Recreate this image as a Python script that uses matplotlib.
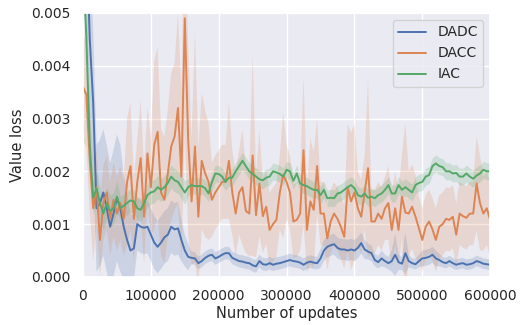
import numpy as np
import matplotlib
matplotlib.use("Agg")
import matplotlib.pyplot as plt
import seaborn as sns

# updates logged every 5000 steps
updates = np.arange(0, 600001, 5000)

dadc = [0.0080, 0.0065, 0.0045, 0.0033, 0.0013, 0.0014, 0.0016, 0.0013, 0.00095, 0.0012,
        0.0015, 0.0013, 0.00095, 0.0007, 0.0005, 0.00054, 0.0010, 0.00095, 0.00093, 0.00095,
        0.0008, 0.00065, 0.00057, 0.00065, 0.00075, 0.0008, 0.00095, 0.0009, 0.00092, 0.0007,
        0.0005, 0.00038, 0.00036, 0.00035, 0.00026, 0.0003, 0.00036, 0.0004, 0.00042, 0.00035,
        0.00038, 0.00042, 0.00045, 0.00045, 0.00036, 0.00033, 0.0003, 0.00029, 0.00027, 0.00026,
        0.00022, 0.0002, 0.0003, 0.00024, 0.00023, 0.00026, 0.00023, 0.00025, 0.00026, 0.00028,
        0.0003, 0.00032, 0.0003, 0.00029, 0.00027, 0.00023, 0.00027, 0.00029, 0.00027, 0.00026,
        0.00035, 0.0005, 0.00057, 0.0006, 0.00062, 0.00055, 0.00052, 0.00052, 0.0005, 0.00052,
        0.0005, 0.00055, 0.00064, 0.00052, 0.00048, 0.00045, 0.00032, 0.00028, 0.00035, 0.0003,
        0.00026, 0.0003, 0.00042, 0.00028, 0.00025, 0.00045, 0.0003, 0.00026, 0.00024, 0.0003,
        0.00035, 0.00036, 0.00038, 0.00042, 0.00035, 0.00032, 0.00028, 0.00026, 0.0003, 0.00026,
        0.00023, 0.00025, 0.00026, 0.00023, 0.00024, 0.00026, 0.0003, 0.00028, 0.00025, 0.00024,
        0.00023]

dadc_spread = [0.0015, 0.0015, 0.0015, 0.0014, 0.0012, 0.0012, 0.0012, 0.0012, 0.0012, 0.0012,
               0.0012, 0.0012, 0.0010, 0.0009, 0.0007, 0.0006, 0.0005, 0.0005, 0.0005, 0.0005,
               0.0005, 0.0005, 0.0005, 0.0005, 0.0005, 0.0005, 0.0005, 0.0005, 0.0005, 0.0004,
               0.0003, 0.00025, 0.00012, 0.00012, 0.00012, 0.00012, 0.00012, 0.00012, 0.00012, 0.00012,
               0.00012, 0.00012, 0.00012, 0.00012, 0.00012, 0.00012, 0.00012, 0.00012, 0.00012, 0.00012,
               0.00012, 0.00012, 0.00012, 0.00012, 0.00012, 0.00012, 0.00012, 0.00012, 0.00012, 0.00012,
               0.00012, 0.00012, 0.00012, 0.00012, 0.00012, 0.00012, 0.00012, 0.00012, 0.00012, 0.00012,
               0.00018, 0.0002, 0.0002, 0.0002, 0.0002, 0.0002, 0.0002, 0.0002, 0.0002, 0.0002,
               0.0002, 0.0002, 0.0002, 0.00018, 0.00015, 0.00015, 0.00012, 0.00012, 0.00015, 0.00012,
               0.00012, 0.0002, 0.0004, 0.00015, 0.00012, 0.0004, 0.00012, 0.0001, 0.0001, 0.00012,
               0.00015, 0.00015, 0.00015, 0.00015, 0.00015, 0.00012, 0.0001, 0.0001, 0.0001, 0.0001,
               0.0001, 0.0001, 0.0001, 0.0001, 0.0001, 0.0001, 0.0001, 0.0001, 0.0001, 0.0001,
               0.0001]

dacc = [0.0036, 0.00345, 0.0022, 0.0013, 0.0017, 0.0007, 0.0014, 0.0016, 0.0011, 0.00146,
        0.0012, 0.0014, 0.0011, 0.0018, 0.0021, 0.0011, 0.0018, 0.00225, 0.00114, 0.00234,
        0.0017, 0.0025, 0.00275, 0.0016, 0.00146, 0.00196, 0.00247, 0.00266, 0.0032, 0.0019,
        0.0049, 0.0026, 0.00143, 0.00247, 0.00114, 0.0022, 0.00196, 0.0018, 0.00146, 0.0016,
        0.0017, 0.0018, 0.0018, 0.0022, 0.0016, 0.0012, 0.0016, 0.0017, 0.00125, 0.0012,
        0.0023, 0.00117, 0.00177, 0.00115, 0.00133, 0.00089, 0.001, 0.00108, 0.0016, 0.00193,
        0.0018, 0.0016, 0.00105, 0.00108, 0.0012, 0.0024, 0.00089, 0.00143, 0.00127, 0.0021,
        0.0012, 0.0012, 0.00073, 0.00105, 0.0012, 0.0011, 0.00095, 0.00076, 0.0017, 0.00143,
        0.0016, 0.0013, 0.00114, 0.0016, 0.00206, 0.00105, 0.00105, 0.0012, 0.0011, 0.0013,
        0.0014, 0.00089, 0.0013, 0.00089, 0.00152, 0.00122, 0.0012, 0.00133, 0.00114, 0.00092,
        0.0007, 0.00095, 0.00105, 0.0009, 0.0007, 0.00095, 0.001, 0.0011, 0.00108, 0.00114,
        0.0008, 0.0012, 0.00115, 0.00112, 0.0012, 0.0012, 0.00177, 0.0014, 0.0012, 0.0013,
        0.00108]

dacc_spread = [0.0010, 0.0010, 0.0010, 0.0010, 0.0007, 0.0007, 0.0007, 0.0007, 0.0007, 0.0007,
               0.0007, 0.0007, 0.0007, 0.0012, 0.0012, 0.0008, 0.0008, 0.0011, 0.0009, 0.0009,
               0.0009, 0.0016, 0.0016, 0.0012, 0.0012, 0.0012, 0.0014, 0.0014, 0.0018, 0.0016,
               0.0022, 0.0018, 0.0012, 0.0022, 0.0013, 0.0013, 0.0012, 0.0011, 0.0007, 0.0007,
               0.0007, 0.0007, 0.0007, 0.0011, 0.0008, 0.0008, 0.0008, 0.0011, 0.0008, 0.0008,
               0.0019, 0.0008, 0.0010, 0.0007, 0.0007, 0.0007, 0.0007, 0.0007, 0.0007, 0.0012,
               0.0007, 0.0007, 0.0007, 0.0007, 0.0007, 0.0014, 0.0008, 0.0012, 0.0011, 0.0009,
               0.0006, 0.0006, 0.0006, 0.0006, 0.0006, 0.0006, 0.0006, 0.0006, 0.0012, 0.0013,
               0.0013, 0.0007, 0.0007, 0.0007, 0.0017, 0.0006, 0.0006, 0.0006, 0.0006, 0.0006,
               0.0007, 0.0007, 0.0007, 0.0007, 0.0008, 0.0017, 0.0008, 0.0008, 0.0008, 0.0006,
               0.0006, 0.0006, 0.0006, 0.0006, 0.0006, 0.0006, 0.0006, 0.0006, 0.0006, 0.0006,
               0.0006, 0.0006, 0.0006, 0.0006, 0.0006, 0.0006, 0.0009, 0.0009, 0.0007, 0.0007,
               0.0007]

iac = [0.0060, 0.0045, 0.0025, 0.0015, 0.00168, 0.0014, 0.0012, 0.0014, 0.00125, 0.0013,
       0.00152, 0.0013, 0.00135, 0.0014, 0.00145, 0.00143, 0.0013, 0.00127, 0.0014, 0.00155,
       0.0016, 0.00162, 0.0017, 0.00165, 0.0017, 0.00178, 0.0019, 0.00183, 0.0018, 0.0017,
       0.0016, 0.0017, 0.00174, 0.00172, 0.00172, 0.00172, 0.00168, 0.00158, 0.0018, 0.00196,
       0.00195, 0.0019, 0.0018, 0.00188, 0.00188, 0.002, 0.0021, 0.0022, 0.0021, 0.002,
       0.00195, 0.0019, 0.00185, 0.00183, 0.00188, 0.0019, 0.002, 0.00198, 0.00195, 0.0019,
       0.00203, 0.002, 0.00182, 0.00196, 0.00177, 0.00174, 0.00172, 0.00168, 0.00165, 0.00165,
       0.00155, 0.00165, 0.00149, 0.0015, 0.00149, 0.00158, 0.0016, 0.00165, 0.0017, 0.00174,
       0.00168, 0.00155, 0.00152, 0.00158, 0.0015, 0.00152, 0.00149, 0.00155, 0.00158, 0.00165,
       0.00174, 0.00158, 0.00158, 0.00174, 0.00165, 0.0017, 0.00165, 0.0016, 0.00174, 0.00178,
       0.0018, 0.0019, 0.00193, 0.0021, 0.00215, 0.0021, 0.00208, 0.002, 0.002, 0.00196,
       0.00197, 0.0019, 0.0019, 0.00196, 0.0019, 0.00186, 0.00192, 0.00196, 0.00203, 0.002,
       0.002]

iac_spread = [0.0005, 0.0005, 0.0005, 0.0003, 0.0003, 0.0003, 0.0003, 0.0003, 0.0003, 0.0003,
              0.0003, 0.00022, 0.00022, 0.00022, 0.00022, 0.00022, 0.00022, 0.00022, 0.00022, 0.00022,
              0.00022, 0.00022, 0.00022, 0.00022, 0.00022, 0.00022, 0.00022, 0.00022, 0.00022, 0.00022,
              0.00022] + [0.00016] * 90

sns.set_theme(style="darkgrid")
plt.rcParams['font.family'] = ['DejaVu Sans']

fig = plt.figure(figsize=(5.22, 3.25), dpi=100)
ax = fig.add_axes([0.159, 0.148, 0.780, 0.812])

runs = [("DADC", dadc, dadc_spread), ("DACC", dacc, dacc_spread), ("IAC", iac, iac_spread)]
colors = sns.color_palette("deep")
for i, (name, mean, spread) in enumerate(runs):
    mean = np.array(mean)
    spread = np.array(spread)
    ax.fill_between(updates, mean - spread, mean + spread, color=colors[i], alpha=0.2, lw=0)
    ax.plot(updates, mean, color=colors[i], lw=1.4, label=name)

ax.set_xlim(0, 600000)
ax.set_ylim(0, 0.005)
ax.set_yticks([0, 0.001, 0.002, 0.003, 0.004, 0.005])
ax.set_yticklabels(["0.000", "0.001", "0.002", "0.003", "0.004", "0.005"])
ax.tick_params(labelsize=10, pad=3)
ax.set_xlabel("Number of updates", fontsize=10.5, labelpad=2)
ax.set_ylabel("Value loss", fontsize=10.5)
ax.legend(loc="upper right", fontsize=10)

fig.savefig("out.png", dpi=100)
